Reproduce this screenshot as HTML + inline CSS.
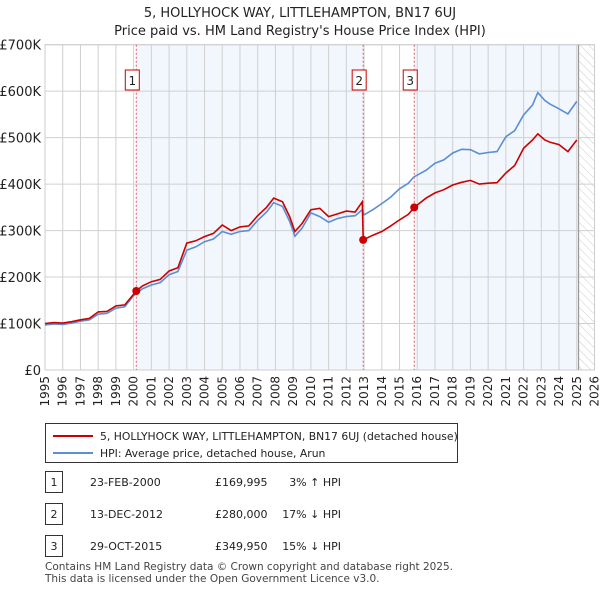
<!DOCTYPE html>
<html><head><meta charset="utf-8">
<style>
body{margin:0;background:#fff;font-family:"Liberation Sans","DejaVu Sans",sans-serif;}
#wrap{position:relative;width:600px;height:590px;overflow:hidden;}
svg text{font-family:"DejaVu Sans","Liberation Sans",sans-serif;}
</style></head>
<body>
<div id="wrap">
<svg id="chart" width="600" height="590">
<text x="300" y="17" text-anchor="middle" font-size="13" fill="#222">5, HOLLYHOCK WAY, LITTLEHAMPTON, BN17 6UJ</text>
<text x="300" y="35" text-anchor="middle" font-size="13" fill="#222">Price paid vs. HM Land Registry's House Price Index (HPI)</text>
</svg>
</div>
<script>
const yearTicks=[1995,1996,1997,1998,1999,2000,2001,2002,2003,2004,2005,2006,2007,2008,2009,2010,2011,2012,2013,2014,2015,2016,2017,2018,2019,2020,2021,2022,2023,2024,2025,2026];
const priceTicks=[0,100000,200000,300000,400000,500000,600000,700000];
const priceTickLabels=["£0","£100K","£200K","£300K","£400K","£500K","£600K","£700K"];
const hpiDates=[1995,1995.5,1996,1996.5,1997,1997.5,1998,1998.5,1999,1999.5,2000,2000.5,2001,2001.5,2002,2002.5,2003,2003.5,2004,2004.5,2005,2005.5,2006,2006.5,2007,2007.5,2007.9,2008.4,2008.8,2009.1,2009.5,2010,2010.5,2011,2011.5,2012,2012.5,2012.9,2013,2013.5,2014,2014.5,2015,2015.5,2015.8,2016.5,2017,2017.5,2018,2018.5,2019,2019.5,2020,2020.5,2021,2021.5,2022,2022.5,2022.8,2023.2,2023.5,2024,2024.5,2025];
const hpiValues=[97000,99000,98000,101000,105000,108000,120000,122000,133000,136000,160000,175000,183000,188000,205000,212000,258000,265000,276000,282000,298000,292000,298000,300000,322000,340000,360000,352000,320000,288000,305000,338000,330000,318000,326000,330000,332000,345000,334000,345000,358000,372000,390000,402000,415000,430000,445000,452000,467000,475000,474000,465000,468000,470000,502000,515000,549000,570000,597000,580000,572000,562000,551000,578000];
const saleDates=[2000.15,2012.95,2015.83];
const salePrices=[169995,280000,349950];
const ppDates=[1995,1995.5,1996,1996.5,1997,1997.5,1998,1998.5,1999,1999.5,2000.15,2000.5,2001,2001.5,2002,2002.5,2003,2003.5,2004,2004.5,2005,2005.5,2006,2006.5,2007,2007.5,2007.9,2008.4,2008.8,2009.1,2009.5,2010,2010.5,2011,2011.5,2012,2012.5,2012.9,2012.95,2013.5,2014,2014.5,2015,2015.5,2015.83,2016.5,2017,2017.5,2018,2018.5,2019,2019.5,2020,2020.5,2021,2021.5,2022,2022.5,2022.8,2023.2,2023.5,2024,2024.5,2025];
const ppValues=[100000,102000,101000,104000,108000,111000,125000,126000,138000,140000,169995,181000,190000,195000,213000,220000,273000,278000,287000,294000,312000,300000,308000,310000,332000,350000,370000,362000,330000,298000,315000,345000,348000,330000,336000,342000,340000,362000,280000,290000,298000,310000,323000,335000,349950,370000,381000,388000,398000,404000,408000,400000,402000,403000,424000,440000,477000,495000,508000,495000,490000,485000,470000,495000];
const NS='http://www.w3.org/2000/svg';
const svg=document.getElementById('chart');
const X0=45,X1=594.5,Y0=370,Y1=44.7;
const xs=t=>X0+(t-1995)*(X1-X0)/31;
const ys=v=>Y0-v*(Y0-Y1)/700000;
function mk(tag,attrs,parent){const e=document.createElementNS(NS,tag);for(const k in attrs)e.setAttribute(k,attrs[k]);(parent||svg).appendChild(e);return e;}
let r=mk('rect',{x:xs(saleDates[0]),y:Y1,width:xs(saleDates[1])-xs(saleDates[0]),height:Y0-Y1,fill:'#f2f6fd'});


r=mk('rect',{x:xs(saleDates[2]),y:Y1,width:xs(2025.1)-xs(saleDates[2]),height:Y0-Y1,fill:'#f2f6fd'});


const defs=mk('defs',{});
const pat=mk('pattern',{id:'hatch',width:6,height:6,patternUnits:'userSpaceOnUse',patternTransform:'rotate(-45)'},defs);
mk('line',{x1:0,y1:0,x2:0,y2:6,stroke:'#ccc','stroke-width':1},pat);
r=mk('rect',{x:xs(2025.1),y:Y1,width:X1-xs(2025.1),height:Y0-Y1,fill:'url(#hatch)'});


yearTicks.forEach(t=>{
 const l=mk('line',{x1:xs(t),x2:xs(t),y1:Y1,y2:Y0,stroke:'#d0d0d0','stroke-width':1});
 
 
 const tx=mk('text',{x:0,y:0,'font-size':12,fill:'#222','text-anchor':'end',transform:`translate(${xs(t)+4},${Y0+6}) rotate(-90)`});
 tx.textContent=t;
 
 
});
priceTicks.forEach((v,i)=>{
 const l=mk('line',{x1:X0,x2:X1,y1:ys(v),y2:ys(v),stroke:'#d0d0d0','stroke-width':1});
 
 
 const tx=mk('text',{x:X0-4,y:ys(v)+5,'font-size':13,fill:'#222','text-anchor':'end'});
 tx.textContent=priceTickLabels[i];
 
 
});
r=mk('rect',{x:X0,y:Y1,width:X1-X0,height:Y0-Y1,fill:'none',stroke:'#ccc'});


r=mk('line',{x1:xs(2025.1),x2:xs(2025.1),y1:Y1,y2:Y0,stroke:'#999','stroke-width':1.2});


saleDates.forEach((d,i)=>{
 const l=mk('line',{x1:xs(d),x2:xs(d),y1:Y1,y2:Y0,stroke:'#e06060','stroke-width':1,'stroke-dasharray':'2,2'});
 
 
 const b=mk('rect',{x:xs(d)-11,y:70,width:14,height:20,fill:'#fff',stroke:'#c00'});
 
 
 const t=mk('text',{x:xs(d)-4,y:85,'font-size':12,fill:'#222','text-anchor':'middle'});
 t.textContent=i+1;
 
 
});
function path(ds,vs){return ds.map((d,i)=>(i?'L':'M')+xs(d).toFixed(1)+','+ys(vs[i]).toFixed(1)).join('');}
let p=mk('path',{d:path(hpiDates,hpiValues),fill:'none',stroke:'#5b8fd3','stroke-width':1.6});


p=mk('path',{d:path(ppDates,ppValues),fill:'none',stroke:'#cc0000','stroke-width':1.6});


saleDates.forEach((d,i)=>{
 const c=mk('circle',{cx:xs(d),cy:ys(salePrices[i]),r:4,fill:'#cc0000'});
 
 
});
const lg=mk('g',{});


mk('rect',{x:45.5,y:423.5,width:412,height:39,fill:'#fff',stroke:'#333'},lg);
mk('line',{x1:53,x2:93,y1:436,y2:436,stroke:'#cc0000','stroke-width':2},lg);
mk('line',{x1:53,x2:93,y1:453,y2:453,stroke:'#5b8fd3','stroke-width':2},lg);
let t=mk('text',{x:100,y:440,'font-size':10.8,fill:'#222'},lg);t.textContent='5, HOLLYHOCK WAY, LITTLEHAMPTON, BN17 6UJ (detached house)';


t=mk('text',{x:100,y:457,'font-size':10.8,fill:'#222'},lg);t.textContent='HPI: Average price, detached house, Arun';


const rows=[['1','23-FEB-2000','£169,995','3% ↑ HPI'],['2','13-DEC-2012','£280,000','17% ↓ HPI'],['3','29-OCT-2015','£349,950','15% ↓ HPI']];
rows.forEach((rw,i)=>{
 const y=482+i*32;
 const g=mk('g',{});
 
 
 mk('rect',{x:45.5,y:y-10.5,width:17,height:21,fill:'#fff',stroke:'#333'},g);
 let a=mk('text',{x:54,y:y+4,'font-size':11,'text-anchor':'middle',fill:'#222'},g);a.textContent=rw[0];
 a=mk('text',{x:90,y:y+4,'font-size':11,fill:'#222'},g);a.textContent=rw[1];
 a=mk('text',{x:215,y:y+4,'font-size':11,fill:'#222'},g);a.textContent=rw[2];
 a=mk('text',{x:341,y:y+4,'font-size':11,'text-anchor':'end',fill:'#222'},g);a.textContent=rw[3];
});
t=mk('text',{x:45,y:570,'font-size':10.5,fill:'#444',textLength:408});t.textContent='Contains HM Land Registry data © Crown copyright and database right 2025.';


t=mk('text',{x:45,y:582,'font-size':10.5,fill:'#444'});t.textContent='This data is licensed under the Open Government Licence v3.0.';


</script>
</body></html>
